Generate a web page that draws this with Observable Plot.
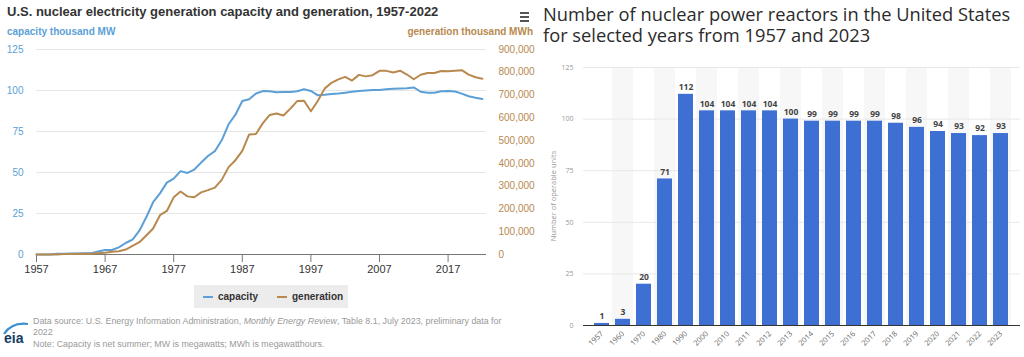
<!DOCTYPE html>
<html><head><meta charset="utf-8">
<script src="https://cdn.jsdelivr.net/npm/d3@7"></script>
<script src="https://cdn.jsdelivr.net/npm/@observablehq/plot@0.6"></script>
<style>
body{margin:0;width:1024px;height:357px;overflow:hidden;background:#fff;position:relative;font-family:"Liberation Sans",Arial,sans-serif}
.abs{position:absolute;white-space:nowrap}
.os{font-family:"Open Sans",sans-serif}
</style></head><body>
<div id="leftPlot" class="abs" style="left:0;top:40px"></div>
<div id="rightPlot" class="abs" style="left:520px;top:55px"></div>

<div class="abs" style="left:7px;top:5px;font-weight:bold;font-size:13px;line-height:13px;color:#333">U.S. nuclear electricity generation capacity and generation, 1957-2022</div>
<div class="abs" style="left:7px;top:26.5px;font-weight:bold;font-size:10px;line-height:10px;color:#5b9fd6">capacity thousand MW</div>
<div class="abs" style="right:491px;top:26.5px;font-weight:bold;font-size:10px;line-height:10px;color:#b8894f">generation thousand MWh</div>

<div class="abs" style="left:194px;top:285px;width:154px;height:23px;background:#ececec"></div>
<div class="abs" style="left:203px;top:296px;width:10px;height:2px;background:#5b9fd6"></div>
<div class="abs" style="left:218px;top:292px;font-weight:bold;font-size:10px;line-height:10px;color:#333">capacity</div>
<div class="abs" style="left:277px;top:296px;width:10px;height:2px;background:#b8894f"></div>
<div class="abs" style="left:292px;top:292px;font-weight:bold;font-size:10px;line-height:10px;color:#333">generation</div>

<div class="abs" style="left:33px;top:315.5px;font-size:8.9px;line-height:11.5px;color:#999">Data source: U.S. Energy Information Administration, <i>Monthly Energy Review</i>, Table 8.1, July 2023, preliminary data for<br>2022<br>Note: Capacity is net summer; MW is megawatts; MWh is megawatthours.</div>
<svg class="abs" style="left:2px;top:320px" width="28" height="28">
  <path d="M2 14 Q10 2 26 4" fill="none" stroke="#3a8fd0" stroke-width="2.2"/>
  <text x="2" y="23" font-family="Liberation Sans" font-weight="bold" font-size="14" fill="#123a63">eia</text>
</svg>

<div class="abs" style="left:520px;top:12px;width:9px;height:2px;background:#555"></div>
<div class="abs" style="left:520px;top:16px;width:9px;height:2px;background:#555"></div>
<div class="abs" style="left:520px;top:20px;width:9px;height:2px;background:#555"></div>

<div class="abs os" style="left:543px;top:4px;font-size:18.3px;line-height:19px;font-weight:500;color:#2b2b2b">Number of nuclear power reactors in the United States</div>
<div class="abs os" style="left:543px;top:25px;font-size:18.3px;line-height:19px;font-weight:500;color:#2b2b2b">for selected years from 1957 and 2023</div>
<div class="abs os" style="left:553px;top:196px;font-size:7.5px;color:#999;transform:translate(-50%,-50%) rotate(-90deg)">Number of operable units</div>

<script>
// ---- Left chart: EIA capacity & generation ----
const years = [1957,1958,1959,1960,1961,1962,1963,1964,1965,1966,1967,1968,1969,1970,1971,1972,1973,1974,1975,1976,1977,1978,1979,1980,1981,1982,1983,1984,1985,1986,1987,1988,1989,1990,1991,1992,1993,1994,1995,1996,1997,1998,1999,2000,2001,2002,2003,2004,2005,2006,2007,2008,2009,2010,2011,2012,2013,2014,2015,2016,2017,2018,2019,2020,2021,2022];
const capacity = [0.06,0.06,0.06,0.41,0.41,0.67,0.67,0.77,0.77,1.89,2.77,2.77,4.38,7.0,9.02,14.53,22.68,31.87,37.27,43.82,46.3,50.83,49.75,51.81,56.04,60.04,63.01,69.65,79.4,85.24,93.58,94.7,98.16,99.62,99.59,98.99,99.04,99.15,99.52,100.78,99.72,97.07,97.41,97.86,98.16,98.66,99.21,99.63,99.99,100.33,100.27,100.76,101.0,101.17,101.42,101.89,99.24,98.57,98.67,99.57,99.63,99.43,98.12,96.5,95.52,94.77];
const generation = [10,165,188,518,1692,2270,3212,3343,3657,5520,7655,12528,13928,21804,38105,54091,83479,113976,172505,191104,250883,276403,255155,251116,272674,282773,293677,327634,383691,414038,455270,526973,529355,576862,612565,618776,610291,640440,673402,674729,628644,673702,728254,753893,768826,780064,763733,788528,781986,787219,806425,806208,798855,806968,790204,769331,789016,797166,797178,805694,804950,807084,809409,789919,778152,771537];
const capTicks = [0,25,50,75,100,125];
const genTicks = [0,100000,200000,300000,400000,500000,600000,700000,800000,900000];
const yearTicks = [1957,1967,1977,1987,1997,2007,2017];
const genPerCap = 900000 / 125;

const rows = years.map((y, i) => ({year: y, capacity: capacity[i], generation: generation[i]}));

const left = Plot.plot({
  width: 540, height: 240,
  marginTop: 9, marginBottom: 26, marginLeft: 36, marginRight: 54,
  style: {fontFamily: "Liberation Sans, Arial, sans-serif", fontSize: "10px", background: "transparent", overflow: "visible"},
  x: {domain: [1957, 2022.6]},
  y: {domain: [0, 125]},
  marks: [
    Plot.ruleY(capTicks.filter(d => d > 0), {stroke: "#e6e6e6", strokeWidth: 1}),
    Plot.axisY(capTicks, {anchor: "left", tickSize: 0, tickPadding: 13, fill: "#5b9fd6", fontSize: 10, label: null}),
    Plot.axisY(genTicks, {y: d => d / genPerCap, anchor: "right", tickSize: 0, tickPadding: 12, tickFormat: d3.format(","), fill: "#b8894f", fontSize: 10, label: null}),
    Plot.axisX(yearTicks, {tickSize: 8, tickPadding: 3, stroke: "#777", tickFormat: d => String(d), fill: "#333", fontSize: 11, label: null}),
    Plot.ruleY([0], {stroke: "#777", strokeWidth: 1}),
    Plot.lineY(rows, {x: "year", y: "capacity", stroke: "#5b9fd6", strokeWidth: 2}),
    Plot.lineY(rows, {x: "year", y: d => d.generation / genPerCap, stroke: "#b8894f", strokeWidth: 2})
  ]
});
document.getElementById("leftPlot").append(left);

// ---- Right chart: number of reactors ----
const reactorYears = ["1957","1960","1970","1980","1990","2000","2010","2011","2012","2013","2014","2015","2016","2017","2018","2019","2020","2021","2022","2023"];
const reactors = [1,3,20,71,112,104,104,104,104,100,99,99,99,99,98,96,94,93,92,93];
const unitTicks = [0,25,50,75,100,125];

const bars = reactorYears.map((y, i) => ({year: y, units: reactors[i]}));
const stripes = reactorYears.filter((d, i) => i % 2 === 1);

const pIn = 0.27, pOut = 0.185;
const rWidth = 504, rLeft = 63, rRight = 4;
const step = (rWidth - rLeft - rRight) / (reactorYears.length - pIn + 2 * pOut);
const gap = step * pIn / 2;

const right = Plot.plot({
  width: rWidth, height: 302,
  marginTop: 12, marginBottom: 32, marginLeft: rLeft, marginRight: rRight,
  style: {fontFamily: "Open Sans, sans-serif", fontSize: "8px", background: "transparent", overflow: "visible"},
  x: {type: "band", domain: reactorYears, paddingInner: pIn, paddingOuter: pOut},
  y: {domain: [0, 125]},
  marks: [
    Plot.barY(stripes, {x: d => d, y1: 0, y2: 125, fill: "#f7f7f7", insetLeft: -gap, insetRight: -gap}),
    Plot.ruleY(unitTicks.filter(d => d > 0), {stroke: "#e8e8e8", strokeWidth: 1}),
    Plot.axisY(unitTicks, {anchor: "left", tickSize: 0, tickPadding: 10, fill: "#999", fontSize: 7, label: null}),
    Plot.axisX({tickSize: 0, tickPadding: 7, tickRotate: -45, fill: "#666", fontSize: 7.5, label: null}),
    Plot.barY(bars, {x: "year", y: "units", fill: "#3e70d4"}),
    Plot.ruleY([0], {stroke: "#333", strokeWidth: 1}),
    Plot.text(bars, {x: "year", y: "units", text: d => String(d.units), dy: -7, fontWeight: "bold", fontSize: 8.5, fill: "#444"})
  ]
});
document.getElementById("rightPlot").append(right);
</script>
</body></html>
